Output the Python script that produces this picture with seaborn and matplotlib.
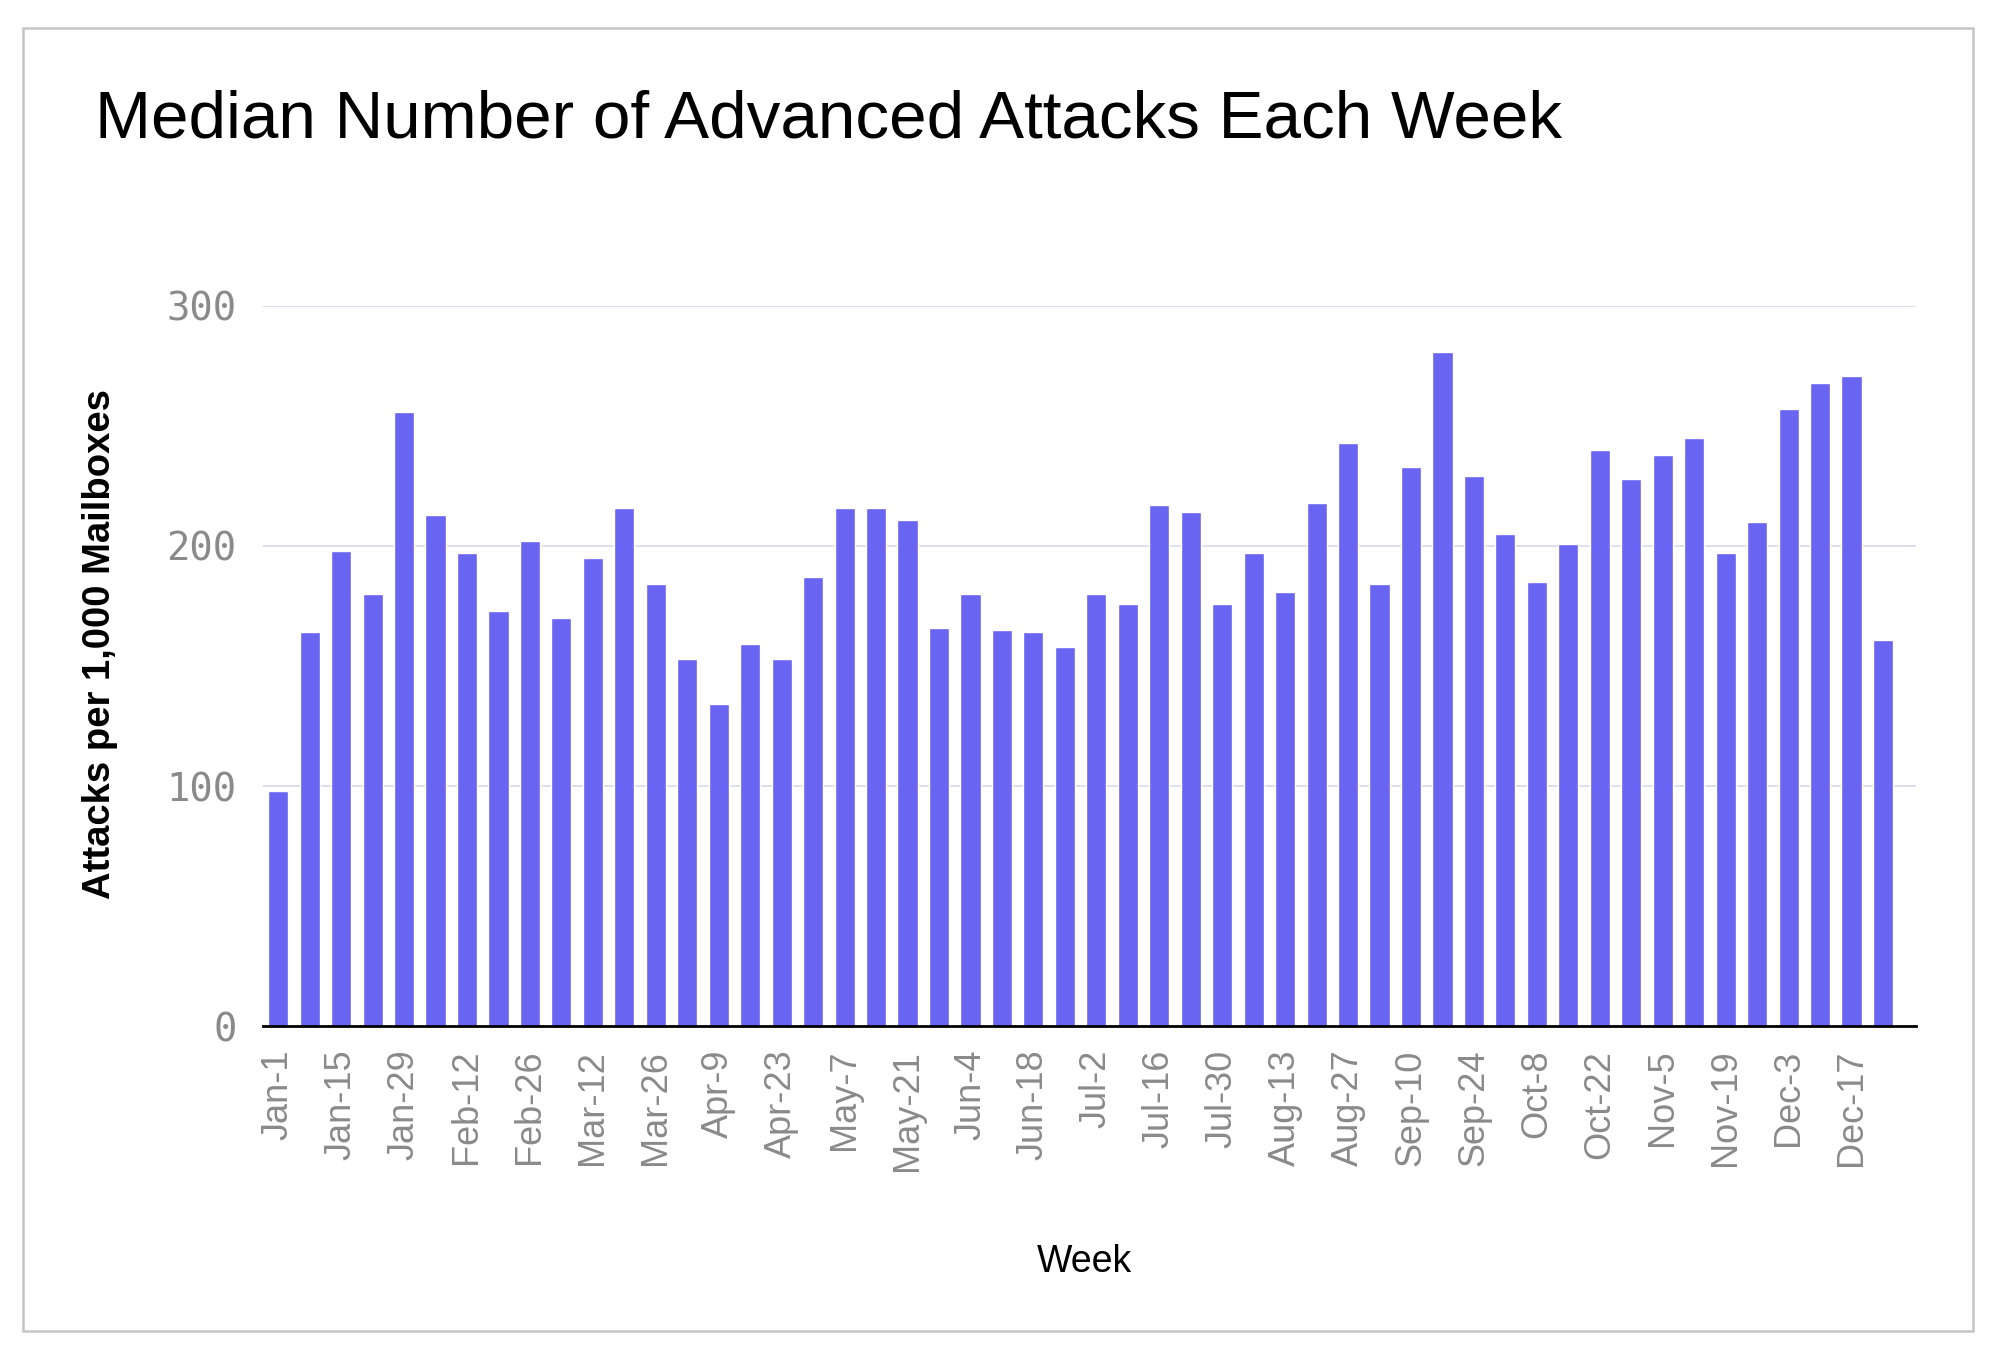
import matplotlib
matplotlib.use("Agg")
import matplotlib.pyplot as plt
import matplotlib.patches as patches
import seaborn as sns
import pandas as pd

# weekly data
weeks = ["Jan-1", "Jan-8", "Jan-15", "Jan-22", "Jan-29",
         "Feb-5", "Feb-12", "Feb-19", "Feb-26",
         "Mar-5", "Mar-12", "Mar-19", "Mar-26",
         "Apr-2", "Apr-9", "Apr-16", "Apr-23", "Apr-30",
         "May-7", "May-14", "May-21", "May-28",
         "Jun-4", "Jun-11", "Jun-18", "Jun-25",
         "Jul-2", "Jul-9", "Jul-16", "Jul-23", "Jul-30",
         "Aug-6", "Aug-13", "Aug-20", "Aug-27",
         "Sep-3", "Sep-10", "Sep-17", "Sep-24",
         "Oct-1", "Oct-8", "Oct-15", "Oct-22", "Oct-29",
         "Nov-5", "Nov-12", "Nov-19", "Nov-26",
         "Dec-3", "Dec-10", "Dec-17", "Dec-24"]
attacks = [98, 164, 198, 180, 256, 213, 197, 173, 202, 170, 195, 216, 184,
           153, 134, 159, 153, 187, 216, 216, 211, 166, 180, 165, 164, 158,
           180, 176, 217, 214, 176, 197, 181, 218, 243, 184, 233, 281, 229,
           205, 185, 201, 240, 228, 238, 245, 197, 210, 257, 268, 271, 161]
y_ticks = [0, 100, 200, 300]

df = pd.DataFrame({"week": weeks, "attacks": attacks})

sns.set_style("white")
plt.rcParams['font.family'] = ['Liberation Sans', 'DejaVu Sans']

fig = plt.figure(figsize=(19.99, 13.61), dpi=100)
ax = fig.add_axes([0.1316, 0.2461, 0.8269, 0.5291])

sns.barplot(data=df, x="week", y="attacks", color="#6964f2", saturation=1,
            width=0.64, ax=ax)

ax.set_ylim(0, 300)
ax.set_xlim(-0.48, 52.05)
ax.set_yticks(y_ticks)
ax.set_yticklabels([str(v) for v in y_ticks], family="DejaVu Sans Mono",
                   fontsize=28, color="#8a8a8a")
ax.set_xticks(range(0, len(weeks), 2))
ax.set_xticklabels(weeks[::2], rotation=90, fontsize=26, color="#8a8a8a")
ax.tick_params(axis="y", length=0, pad=19)
ax.tick_params(axis="x", length=0, pad=17)
ax.grid(axis="y", color="#d9d8ee", linewidth=1.2)
ax.set_axisbelow(True)
for s in ["top", "right", "left"]:
    ax.spines[s].set_visible(False)
ax.spines["bottom"].set_color("black")
ax.spines["bottom"].set_linewidth(2)

ax.set_ylabel("Attacks per 1,000 Mailboxes", fontsize=27.5, fontweight="bold",
              color="black")
ax.set_xlabel("Week", fontsize=27, color="black")
ax.yaxis.set_label_coords(-0.088, 0.53)
ax.xaxis.set_label_coords(0.497, -0.302)

fig.text(0.0475, 1 - 137 / 1361, "Median Number of Advanced Attacks Each Week",
         fontsize=48.5, color="black", va="baseline", ha="left")

# outer frame
fig.patches.append(patches.Rectangle((23 / 1999, 1 - 1331 / 1361),
                                     1950 / 1999, 1303 / 1361,
                                     transform=fig.transFigure, fill=False,
                                     edgecolor="#c4c4c4", linewidth=1.8))

fig.savefig("out.png", dpi=100, facecolor="white")
